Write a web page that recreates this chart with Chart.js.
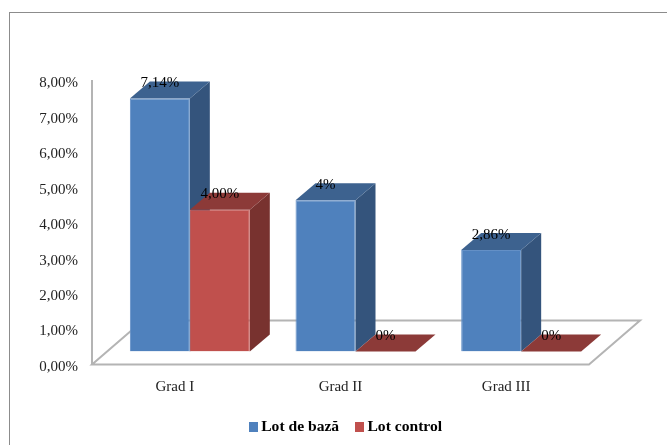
<!DOCTYPE html>
<html lang="ro">

<head>
  <meta charset="UTF-8">
  <title>Lot de bază / Lot control</title>
  <script src="https://cdn.jsdelivr.net/npm/chart.js"></script>
  <style>
    html, body {
      margin: 0;
      padding: 0;
      background: #fff;
      overflow: hidden;
    }

    #frame {
      position: absolute;
      left: 9px;
      top: 12px;
      right: 0;
      bottom: 0;
      border-top: 1px solid #8c8c8c;
      border-left: 1px solid #8c8c8c;
    }

    canvas {
      position: absolute;
      left: 0;
      top: 0;
    }
  </style>
</head>

<body>
  <div id="frame"></div>
  <canvas id="chart" width="667" height="445"></canvas>

  <script>
    const categories = ['Grad I', 'Grad II', 'Grad III'];
    const lotBaza = [7.14, 4.27, 2.86];
    const lotControl = [4.00, 0, 0];
    const lotBazaLabels = ['7,14%', '4%', '2,86%'];
    const lotControlLabels = ['4,00%', '0%', '0%'];
    const yTickLabels = ['0,00%', '1,00%', '2,00%', '3,00%', '4,00%', '5,00%', '6,00%', '7,00%', '8,00%'];

    const FONT = '"Liberation Serif", "Times New Roman", serif';
    const BAR_SHIFT = { x: 15, y: -13 };   // bars stand inside the floor
    const BAR_DEPTH = { x: 20, y: -17 };
    const FLOOR_DEPTH = { x: 51, y: -44 };
    const faceColors = [
      { top: '#3d628f', side: '#34547c' },
      { top: '#8c3a38', side: '#78322f' }
    ];
    const valueLabels = [lotBazaLabels, lotControlLabels];

    function poly(ctx, pts, fill) {
      ctx.beginPath();
      pts.forEach((p, i) => (i ? ctx.lineTo(p[0], p[1]) : ctx.moveTo(p[0], p[1])));
      ctx.closePath();
      ctx.fillStyle = fill;
      ctx.fill();
    }

    // small square for the legend, the built in box sits too far from the text
    function swatch(color) {
      const c = document.createElement('canvas');
      c.width = 9;
      c.height = 10;
      const g = c.getContext('2d');
      g.fillStyle = color;
      g.fillRect(0, 0, 9, 10);
      return c;
    }

    const bars3d = {
      id: 'bars3d',
      afterLayout(chart) {
        const lg = chart.legend;
        lg.left += 53;
        lg.right += 53;
        lg.top = 399;
        lg.bottom = 445;
      },
      beforeDatasetsDraw(chart) {
        const { ctx, chartArea: a } = chart;

        // floor
        ctx.save();
        ctx.beginPath();
        ctx.moveTo(a.left, a.bottom);
        ctx.lineTo(a.right, a.bottom);
        ctx.lineTo(a.right + FLOOR_DEPTH.x, a.bottom + FLOOR_DEPTH.y);
        ctx.lineTo(a.left + FLOOR_DEPTH.x, a.bottom + FLOOR_DEPTH.y);
        ctx.closePath();
        ctx.fillStyle = '#fff';
        ctx.fill();
        ctx.strokeStyle = '#b4b4b4';
        ctx.lineWidth = 2;
        ctx.stroke();
        ctx.restore();

        // everything of the datasets is moved, restored in afterDatasetsDraw
        ctx.save();
        ctx.translate(BAR_SHIFT.x, BAR_SHIFT.y);
        chart.data.datasets.forEach((ds, d) => {
          chart.getDatasetMeta(d).data.forEach((bar) => {
            const p = bar.getProps(['x', 'y', 'base', 'width'], true);
            const l = p.x - p.width / 2;
            const r = p.x + p.width / 2;
            const dx = BAR_DEPTH.x;
            const dy = BAR_DEPTH.y;
            if (p.base > p.y) {
              poly(ctx, [[r, p.y], [r + dx, p.y + dy], [r + dx, p.base + dy], [r, p.base]], faceColors[d].side);
            }
            poly(ctx, [[l, p.y], [l + dx, p.y + dy], [r + dx, p.y + dy], [r, p.y]], faceColors[d].top);
          });
        });
      },
      afterDatasetsDraw(chart) {
        const { ctx } = chart;
        ctx.restore();

        ctx.save();
        ctx.font = '15px ' + FONT;
        ctx.fillStyle = '#000';
        ctx.textAlign = 'center';
        ctx.textBaseline = 'middle';
        chart.data.datasets.forEach((ds, d) => {
          chart.getDatasetMeta(d).data.forEach((bar, i) => {
            const p = bar.getProps(['x', 'y'], true);
            ctx.fillText(valueLabels[d][i], p.x + BAR_SHIFT.x, p.y + BAR_SHIFT.y - 15.5);
          });
        });
        ctx.restore();
      }
    };

    new Chart(document.getElementById('chart'), {
      type: 'bar',
      data: {
        labels: categories,
        datasets: [
          {
            label: 'Lot de bază',
            data: lotBaza,
            backgroundColor: '#4f81bd',
            borderColor: '#6490c6',
            borderWidth: 1,
            categoryPercentage: 0.724,
            barPercentage: 1
          },
          {
            label: 'Lot control',
            data: lotControl,
            backgroundColor: '#c0504d',
            borderColor: '#c8625f',
            borderWidth: 1,
            categoryPercentage: 0.724,
            barPercentage: 1
          }
        ]
      },
      options: {
        responsive: false,
        animation: false,
        layout: { padding: { top: 81, right: 78, left: 0, bottom: 0 } },
        plugins: {
          tooltip: { enabled: false },
          legend: {
            position: 'bottom',
            labels: {
              usePointStyle: true,
              boxWidth: 0.5,
              padding: 20,
              color: '#000',
              font: { family: FONT, size: 15.6, weight: 'bold' },
              generateLabels(chart) {
                const items = Chart.defaults.plugins.legend.labels.generateLabels(chart);
                items.forEach((it) => { it.pointStyle = swatch(it.fillStyle); });
                return items;
              }
            }
          }
        },
        scales: {
          x: {
            grid: { display: false, drawTicks: false },
            border: { display: false },
            ticks: { color: '#222', padding: 14, font: { family: FONT, size: 15 } },
            afterFit(scale) { scale.height = 35; }
          },
          y: {
            min: 0,
            max: 8,
            grid: { display: false, drawTicks: false },
            border: { display: true, color: '#b4b4b4', width: 2 },
            ticks: {
              stepSize: 1,
              color: '#222',
              padding: 14,
              labelOffset: 2.5,
              font: { family: FONT, size: 15 },
              callback: (v, i) => yTickLabels[i]
            },
            afterFit(scale) { scale.width = 92; }
          }
        }
      },
      plugins: [bars3d]
    });
  </script>
</body>

</html>
